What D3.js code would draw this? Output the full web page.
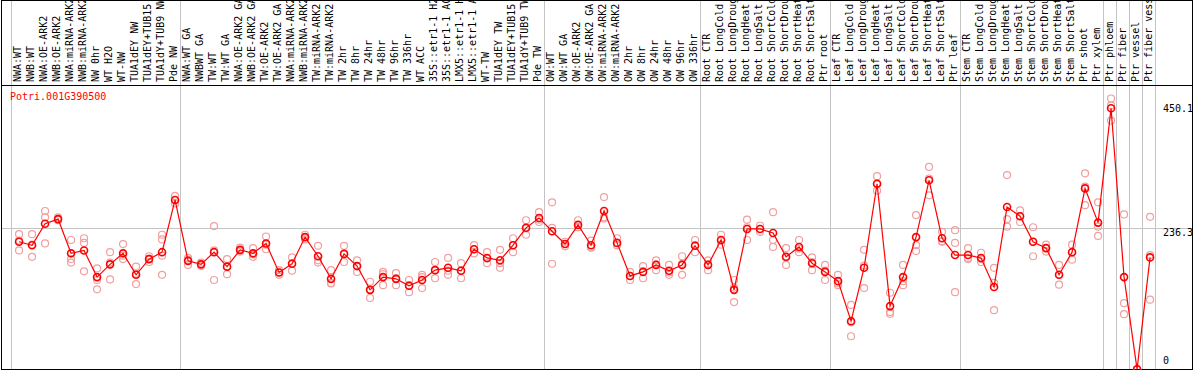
<!DOCTYPE html>
<html>
<head>
<meta charset="utf-8">
<script src="https://cdn.jsdelivr.net/npm/d3@7"></script>
<style>
  body { margin: 0; background: #fff; }
  svg { display: block; }
  text { font-family: "DejaVu Sans Mono", monospace; font-size: 10px; }
</style>
</head>
<body>
<div id="chart"></div>
<script>
// sample labels, one per column
var labels = [
  "NWA:WT", "NWB:WT", "NWA:OE-ARK2", "NWB:OE-ARK2", "NWA:miRNA-ARK2", "NWB:miRNA-ARK2",
  "NW 0hr", "WT H2O", "WT-NW", "TUA1dEY NW", "TUA1dEY+TUB15 NW", "TUA1dY+TUB9 NW", "Pde NW",
  "NWA:WT GA", "NWBWT GA", "TW:WT", "TW:WT GA", "NWA:OE-ARK2 GA", "NWB:OE-ARK2 GA",
  "TW:OE-ARK2", "TW:OE-ARK2 GA", "NWA:miRNA-ARK2 GA", "NWB:miRNA-ARK2 GA", "TW:miRNA-ARK2",
  "TW:miRNA-ARK2 GA", "TW 2hr", "TW 8hr", "TW 24hr", "TW 48hr", "TW 96hr", "TW 336hr",
  "WT ACC", "35S::etr1-1 H2O", "35S::etr1-1 ACC", "LMX5::etr1-1 H2O", "LMX5::etr1-1 ACC",
  "WT-TW", "TUA1dEY TW", "TUA1dEY+TUB15 TW", "TUA1dY+TUB9 TW", "Pde TW",
  "OW:WT", "OW:WT GA", "OW:OE-ARK2", "OW:OE-ARK2 GA", "OW:miRNA-ARK2", "OW:miRNA-ARK2 GA",
  "OW 2hr", "OW 8hr", "OW 24hr", "OW 48hr", "OW 96hr", "OW 336hr",
  "Root CTR", "Root LongCold", "Root LongDrought", "Root LongHeat", "Root LongSalt",
  "Root ShortCold", "Root ShortDrought", "Root ShortHeat", "Root ShortSalt", "Ptr root",
  "Leaf CTR", "Leaf LongCold", "Leaf LongDrought", "Leaf LongHeat", "Leaf LongSalt",
  "Leaf ShortCold", "Leaf ShortDrought", "Leaf ShortHeat", "Leaf ShortSalt", "Ptr leaf",
  "Stem CTR", "Stem LongCold", "Stem LongDrought", "Stem LongHeat", "Stem LongSalt",
  "Stem ShortCold", "Stem ShortDrought", "Stem ShortHeat", "Stem ShortSalt",
  "Ptr shoot", "Ptr xylem", "Ptr phloem", "Ptr fiber", "Ptr vessel", "Ptr fiber vessel"
];

// number of columns in each block between grey separators
var groupSizes = [13, 28, 12, 10, 10, 11, 1, 1, 1, 1];

// mean expression per sample
var means = [
  220, 214, 251, 259, 200, 205, 159, 181, 200, 163, 190, 202, 292,
  187, 181, 202, 177, 206, 200, 217, 167, 182, 228, 195, 156, 199, 178, 137,
  159, 156, 144, 154, 171, 175, 170, 207, 192, 188, 214, 244, 261,
  238, 216, 249, 214, 273, 218, 161, 168, 180, 170, 180, 213,
  180, 223, 137, 242, 242, 235, 194, 211, 183, 168,
  152, 83, 175, 320, 109, 159, 228, 326, 226, 197,
  197, 192, 142, 280, 264, 220, 209, 163, 202,
  312, 253, 450.1, 159, 0, 193
];

// individual replicates per sample
var replicates = [
  [233, 205, 222], [233, 194, 215], [273, 262, 217], [262, 257, 258], [223, 190, 184],
  [226, 218, 169], [174, 154, 138], [202, 155, 184], [216, 190, 196], [177, 147, 165],
  [195, 185, 191], [232, 224, 196, 163], [299, 286, 292],
  [192, 180, 189], [184, 178, 181], [247, 154, 205], [190, 164, 177], [210, 203, 205],
  [209, 194, 198], [229, 207, 215], [171, 163, 167], [193, 170, 183], [232, 224, 228],
  [213, 188, 184], [171, 149, 148], [213, 185, 199], [188, 168, 178], [151, 123, 137],
  [168, 145, 164], [166, 145, 157], [154, 133, 145], [163, 140, 159], [185, 157, 171],
  [192, 163, 170], [183, 157, 170], [214, 200, 207], [202, 183, 191], [206, 175, 183],
  [226, 202, 214], [257, 232, 243], [271, 254, 258],
  [288, 182, 244], [220, 212, 216], [257, 245, 245], [222, 210, 210], [297, 262, 260],
  [226, 214, 214], [168, 154, 161], [178, 157, 169], [188, 171, 181], [180, 163, 167],
  [195, 163, 182], [223, 202, 214],
  [188, 171, 181], [232, 215, 222], [154, 116, 141], [258, 245, 223], [248, 242, 237],
  [271, 223, 211], [209, 180, 193], [223, 202, 208], [193, 171, 185], [180, 154, 170],
  [163, 145, 148], [111, 57, 81], [206, 140, 179], [333, 308, 319], [132, 99, 96],
  [180, 145, 152], [266, 214, 204], [349, 300, 329], [237, 220, 221], [240, 133, 218],
  [209, 192, 190], [201, 190, 185], [175, 102, 149], [335, 246, 259], [274, 264, 254],
  [245, 220, 195], [215, 209, 203], [180, 163, 146], [215, 202, 189],
  [338, 283, 315], [288, 246, 230], [467, 429, 455], [267, 114, 95], [0, 0, 0], [263, 197, 120]
];

var geneName = "Potri.001G390500";
var yTicks = [450.1, 236.3, 0];

var svgWidth = 1194;
var svgHeight = 370;

var labelBottom = 85;   // black line between labels and plot
var plotBottom = 369;
var colWidth = 13;
var firstCol = 11;

var svg = d3.select("#chart")
  .append("svg")
  .attr("width", svgWidth)
  .attr("height", svgHeight);

// band scale for columns
var xBand = d3.scaleBand()
  .domain(d3.range(labels.length))
  .range([firstCol, firstCol + colWidth * labels.length])
  .paddingInner(0)
  .paddingOuter(0);

var xPoint = i => xBand(i) + xBand.bandwidth() * 0.62;

var yScale = d3.scaleLinear()
  .domain([0, d3.max(means)])
  .range([plotBottom + 0.3, 108.3]);

// grey separators at group boundaries
var bounds = [0];
groupSizes.forEach(function(n) { bounds.push(bounds[bounds.length - 1] + n); });

svg.selectAll(".sep")
  .data(bounds)
  .enter()
  .append("line")
  .attr("x1", d => xBand(d) === undefined ? xBand.range()[1] + 0.5 : xBand(d) + 0.5)
  .attr("x2", d => xBand(d) === undefined ? xBand.range()[1] + 0.5 : xBand(d) + 0.5)
  .attr("y1", 0)
  .attr("y2", svgHeight)
  .attr("stroke", "#c4c4c4")
  .attr("stroke-width", 1);

// middle reference line
svg.append("line")
  .attr("x1", 1)
  .attr("x2", svgWidth - 1)
  .attr("y1", Math.round((labelBottom + 2 + plotBottom) / 2) + 0.5)
  .attr("y2", Math.round((labelBottom + 2 + plotBottom) / 2) + 0.5)
  .attr("stroke", "#c4c4c4")
  .attr("stroke-width", 1);

// rotated sample labels, clipped at the top
svg.append("clipPath")
  .attr("id", "labelClip")
  .append("rect")
  .attr("x", 0)
  .attr("y", 1)
  .attr("width", svgWidth)
  .attr("height", labelBottom - 1);

svg.append("g")
  .attr("clip-path", "url(#labelClip)")
  .selectAll("text")
  .data(labels)
  .enter()
  .append("text")
  .attr("transform", (d, i) => `translate(${xBand(i) + 10}, ${labelBottom - 3}) rotate(-90)`)
  .attr("fill", "#000")
  .text(d => d);

// frame
svg.append("rect")
  .attr("x", 1.5)
  .attr("y", 0.5)
  .attr("width", svgWidth - 3)
  .attr("height", plotBottom)
  .attr("fill", "none")
  .attr("stroke", "#000");

svg.append("line")
  .attr("x1", 1)
  .attr("x2", svgWidth - 1)
  .attr("y1", labelBottom + 0.5)
  .attr("y2", labelBottom + 0.5)
  .attr("stroke", "#000");

// gene name
svg.append("text")
  .attr("x", 10)
  .attr("y", 100)
  .attr("fill", "#ff0000")
  .text(geneName);

// value labels on the right
svg.selectAll(".ytick")
  .data(yTicks)
  .enter()
  .append("text")
  .attr("x", 1163)
  .attr("y", d => Math.min(yScale(d) + 3.5, plotBottom - 5))
  .attr("fill", "#000")
  .text(d => d);

// replicate circles
var repPoints = [];
replicates.forEach(function(reps, i) {
  reps.forEach(function(v) { repPoints.push({ i: i, v: v }); });
});

svg.append("g")
  .selectAll("circle")
  .data(repPoints)
  .enter()
  .append("circle")
  .attr("cx", d => xPoint(d.i))
  .attr("cy", d => yScale(d.v))
  .attr("r", 3.5)
  .attr("fill", "none")
  .attr("stroke", "#f0a0a0")
  .attr("stroke-width", 1.2);

// mean line
var line = d3.line()
  .x((d, i) => xPoint(i))
  .y(d => yScale(d));

svg.append("path")
  .datum(means)
  .attr("d", line)
  .attr("fill", "none")
  .attr("stroke", "#ff0000")
  .attr("stroke-width", 1.2);

svg.append("g")
  .selectAll("circle")
  .data(means)
  .enter()
  .append("circle")
  .attr("cx", (d, i) => xPoint(i))
  .attr("cy", d => yScale(d))
  .attr("r", 3.5)
  .attr("fill", "none")
  .attr("stroke", "#ff0000")
  .attr("stroke-width", 1.6);
</script>
</body>
</html>
